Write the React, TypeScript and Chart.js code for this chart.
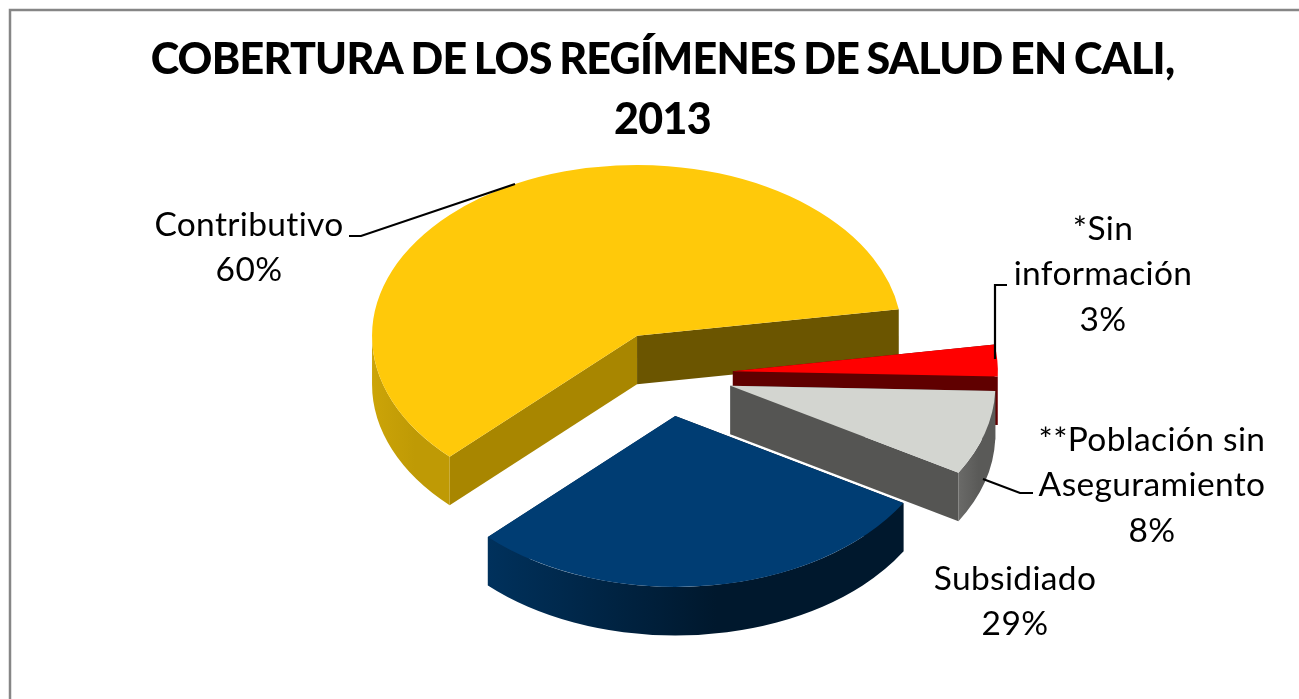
import React, { useEffect, useRef } from "react";
import { Chart, registerables } from "chart.js";

Chart.register(...registerables);

const titleLines = ["COBERTURA DE LOS REGÍMENES DE SALUD EN CALI,", "2013"];
const categories = ["Contributivo", "*Sin información", "**Población sin Aseguramiento", "Subsidiado"];
const values = [60, 3, 8, 29];
const labelLines = [["Contributivo"], ["*Sin", "información"], ["**Población sin", "Aseguramiento"], ["Subsidiado"]];
const topColors = ["#FFC90A", "#FF0000", "#D3D5D0", "#003D73"];
const wallLeftColors = ["#CCA408", "#B0001E", "#6A6A68", "#00315C"];
const wallRightColors = ["#BF9A05", "#8C0018", "#5A5A58", "#00182D"];
const startFaceColors = ["#A88600", "#600000", "#555553", "#00182D"];
const endFaceColors = ["#6B5500", "#600000", "#555553", "#00315C"];
const labelCenters = [[249, 225], [1103, 229], [1152, 440], [1015, 579]];
const leaders = [
  [[515, 184], [361, 236], [349, 236]],
  [[995, 359], [995, 285], [1007, 285]],
  [[983, 479], [1020, 493], [1033, 493]],
];

const SQUASH = 0.645;
const DEPTH = 48.5;
const EXPLODE = 66;
const SHIFT_X = 4.5;
const PIVOT_Y = 373.8;
const RADIUS = 265;
const FONT = "Lato";

const pie3d = {
  id: "pie3d",
  beforeDraw(chart: any) {
    const ctx = chart.ctx;
    ctx.save();
    ctx.strokeStyle = "#868686";
    ctx.lineWidth = 2.5;
    ctx.beginPath();
    ctx.moveTo(10, 699);
    ctx.lineTo(10, 10);
    ctx.lineTo(1299, 10);
    ctx.stroke();
    ctx.restore();
    ctx.letterSpacing = "-0.75px";
    ctx.wordSpacing = "-2px";
  },
  beforeDatasetsDraw(chart: any) {
    const ctx = chart.ctx;
    ctx.letterSpacing = "0px";
    ctx.wordSpacing = "0px";
    const arcs = chart.getDatasetMeta(0).data;
    arcs.forEach((arc: any, i: number) => {
      const a = arc.startAngle;
      const b = arc.endAngle;
      const mid = (a + b) / 2;
      const r = arc.outerRadius;
      const cx = arc.x + SHIFT_X + EXPLODE * Math.cos(mid);
      const cy = PIVOT_Y + EXPLODE * Math.sin(mid) * SQUASH;

      const face = (angle: number, color: string) => {
        const px = cx + r * Math.cos(angle);
        const py = cy + r * Math.sin(angle) * SQUASH;
        ctx.fillStyle = color;
        ctx.beginPath();
        ctx.moveTo(cx, cy);
        ctx.lineTo(px, py);
        ctx.lineTo(px, py + DEPTH);
        ctx.lineTo(cx, cy + DEPTH);
        ctx.closePath();
        ctx.fill();
      };
      face(a, startFaceColors[i]);
      face(b, endFaceColors[i]);

      for (const k of [0, 1]) {
        const lo = Math.max(a, k * 2 * Math.PI);
        const hi = Math.min(b, k * 2 * Math.PI + Math.PI);
        if (hi <= lo) continue;
        const x0 = cx + r * Math.cos(hi);
        const x1 = cx + r * Math.cos(lo);
        const g = ctx.createLinearGradient(x0, 0, x1 + 0.01, 0);
        g.addColorStop(0, wallLeftColors[i]);
        g.addColorStop(0.55, wallRightColors[i]);
        g.addColorStop(1, wallRightColors[i]);
        ctx.fillStyle = g;
        ctx.beginPath();
        ctx.ellipse(cx, cy, r, r * SQUASH, 0, lo, hi);
        ctx.ellipse(cx, cy + DEPTH, r, r * SQUASH, 0, hi, lo, true);
        ctx.closePath();
        ctx.fill();
      }

      ctx.save();
      ctx.translate(cx, cy);
      ctx.scale(1, SQUASH);
      ctx.translate(-arc.x, -arc.y);
      arc.draw(ctx);
      ctx.restore();
    });
    return false;
  },
  afterDraw(chart: any) {
    const ctx = chart.ctx;
    ctx.save();
    ctx.strokeStyle = "#000000";
    ctx.lineWidth = 2.2;
    leaders.forEach((pts) => {
      ctx.beginPath();
      pts.forEach(([x, y], j) => (j ? ctx.lineTo(x, y) : ctx.moveTo(x, y)));
      ctx.stroke();
    });
    ctx.fillStyle = "#000000";
    ctx.font = `33.5px ${FONT}`;
    ctx.letterSpacing = "0.35px";
    ctx.textAlign = "center";
    ctx.textBaseline = "middle";
    labelLines.forEach((lines, i) => {
      const [x, y] = labelCenters[i];
      [...lines, `${values[i]}%`].forEach((t, j) => ctx.fillText(t, x, y + j * 45.5));
    });
    ctx.restore();
  },
};

export default function App() {
  const ref = useRef<HTMLCanvasElement>(null);
  useEffect(() => {
    const chart = new Chart(ref.current as HTMLCanvasElement, {
      type: "pie",
      data: {
        labels: categories,
        datasets: [{ data: values, backgroundColor: topColors, borderWidth: 0 }],
      },
      options: {
        responsive: false,
        animation: false,
        events: [],
        rotation: 225,
        radius: RADIUS,
        layout: { padding: { left: 26 } },
        plugins: {
          legend: { display: false },
          tooltip: { enabled: false },
          title: {
            display: true,
            text: titleLines,
            color: "#000000",
            font: { family: FONT, size: 43, weight: "900", lineHeight: 1.4 },
            padding: { top: 30, bottom: 0 },
          },
        },
      },
      plugins: [pie3d],
    } as any);
    return () => chart.destroy();
  }, []);
  return (
    <canvas
      ref={ref}
      width={1299}
      height={699}
      style={{ position: "fixed", left: 0, top: 0, width: 1299, height: 699 }}
    />
  );
}
